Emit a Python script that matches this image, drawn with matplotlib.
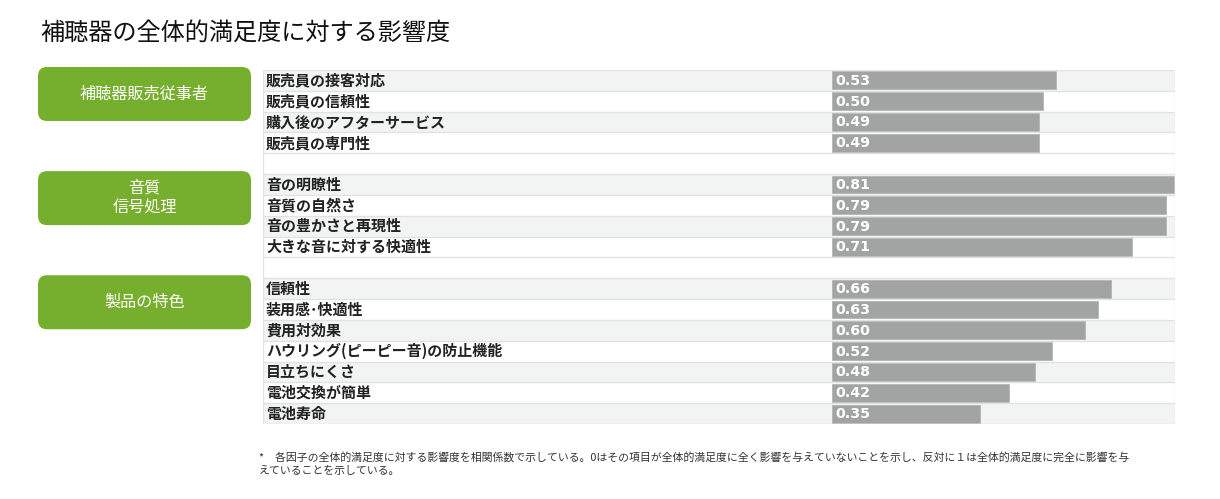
import matplotlib
matplotlib.use("Agg")
import matplotlib.pyplot as plt
from matplotlib.patches import FancyBboxPatch

plt.rcParams['font.family'] = ['Noto Sans CJK JP', 'DejaVu Sans']

# Daten
title = "補聴器の全体的満足度に対する影響度"
groups = ["補聴器販売従事者", "音質\n信号処理", "製品の特色"]
items = [
    ["販売員の接客対応", "販売員の信頼性", "購入後のアフターサービス", "販売員の専門性"],
    ["音の明瞭性", "音質の自然さ", "音の豊かさと再現性", "大きな音に対する快適性"],
    ["信頼性", "装用感･快適性", "費用対効果", "ハウリング(ピーピー音)の防止機能",
     "目立ちにくさ", "電池交換が簡単", "電池寿命"],
]
values = [
    [0.53, 0.50, 0.49, 0.49],
    [0.81, 0.79, 0.79, 0.71],
    [0.66, 0.63, 0.60, 0.52, 0.48, 0.42, 0.35],
]
footnote = ["*　各因子の全体的満足度に対する影響度を相関係数で示している。0はその項目が全体的満足度に全く影響を与えていないことを示し、反対に１は全体的満足度に完全に影響を与",
            "えていることを示している。"]

W, H = 1220, 499
fig = plt.figure(figsize=(W / 100, H / 100), dpi=100)

# Hintergrund-Achse in Pixeln
bg = fig.add_axes([0, 0, 1, 1])
bg.set_xlim(0, W)
bg.set_ylim(H, 0)
bg.axis("off")

tab_left, tab_right, tab_top, tab_bottom = 263, 1175, 70, 424
n_rows = sum(len(g) for g in items) + len(items) - 1
row_h = (tab_bottom - tab_top) / n_rows

ax = fig.add_axes([tab_left / W, 1 - tab_bottom / H, (tab_right - tab_left) / W, (tab_bottom - tab_top) / H])
scale = 342 / 0.81  # Pixel pro Einheit
ax.set_xlim(-(832 - tab_left) / scale, (tab_right - 832) / scale)
ax.set_ylim(n_rows, 0)
ax.axis("off")

row = 0
for gi, (gname, gitems, gvals) in enumerate(zip(groups, items, values)):
    # gruene Box
    y0 = tab_top + row * row_h - 3
    box = FancyBboxPatch((38, y0), 213, 54, boxstyle="round,pad=0,rounding_size=9",
                         facecolor="#76af2d", edgecolor="none")
    bg.add_patch(box)
    bg.text(144.5, y0 + 27, gname, color="white", fontsize=11.6, ha="center", va="center",
            linespacing=1.3)
    for i, (name, v) in enumerate(zip(gitems, gvals)):
        if i % 2 == 0:
            ax.axhspan(row, row + 1, color="#f2f3f3", lw=0)
        ax.barh(row + 0.5, v, height=0.86, left=0, color="#a2a3a3", edgecolor="#b4b5b5", lw=0.6)
        ax.text(-1.3405, row + 0.5, name, fontsize=10.8, fontweight="bold", va="center", color="#222222")
        ax.text(0.009, row + 0.52, f"{v:.2f}", fontsize=10.2, fontweight="bold", va="center",
                color="white", family="DejaVu Sans")
        row += 1
    row += 1

# Linien der Tabelle
for r in range(n_rows + 1):
    ax.axhline(r, color="#e1e3e3", lw=1)
ax.axvline(ax.get_xlim()[0], color="#e1e3e3", lw=1)
ax.axvline(ax.get_xlim()[1], color="#e1e3e3", lw=1)

bg.text(40, 33, title, fontsize=17.4, va="center", ha="left", color="#111111")
bg.text(259, 457, footnote[0], fontsize=7.85, va="center", ha="left", color="#333333")
bg.text(259, 471, footnote[1], fontsize=7.85, va="center", ha="left", color="#333333")

fig.savefig("out.png", dpi=100)
